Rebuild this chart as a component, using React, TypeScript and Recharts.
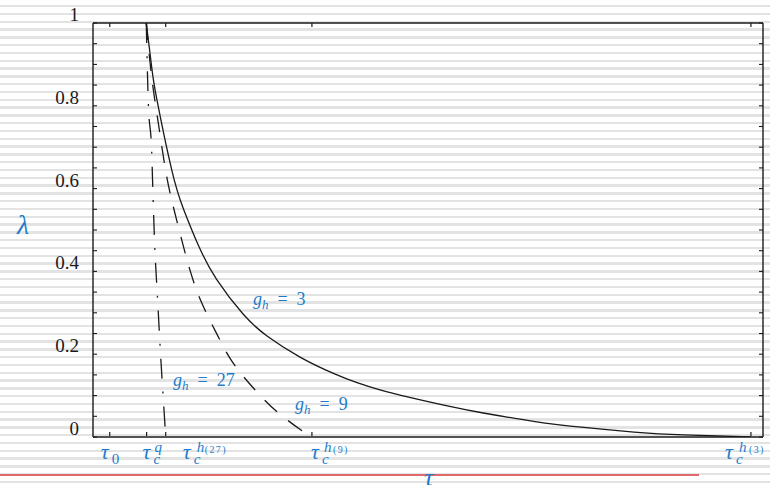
import React from 'react';
import { ComposedChart, Line, XAxis, YAxis, ReferenceDot } from 'recharts';

// curves: tau (arbitrary units) vs lambda
const GH3 = [
    { tau: 3.18, lambda: 1.0 }, { tau: 3.5, lambda: 0.895 }, { tau: 3.8, lambda: 0.818 },
    { tau: 4.7, lambda: 0.645 }, { tau: 5.39, lambda: 0.552 }, { tau: 6.29, lambda: 0.463 },
    { tau: 7.39, lambda: 0.38 }, { tau: 8.96, lambda: 0.297 }, { tau: 10.39, lambda: 0.244 },
    { tau: 12.36, lambda: 0.193 }, { tau: 14.39, lambda: 0.153 }, { tau: 17.13, lambda: 0.114 },
    { tau: 21.3, lambda: 0.074 }, { tau: 23.3, lambda: 0.058 }, { tau: 26.3, lambda: 0.038 },
    { tau: 29.3, lambda: 0.023 }, { tau: 32.3, lambda: 0.012 }, { tau: 35.3, lambda: 0.005 },
    { tau: 39.28, lambda: 0 },
];
const GH9 = [
    { tau: 3.18, lambda: 1.0 }, { tau: 3.5, lambda: 0.87 }, { tau: 3.9, lambda: 0.758 },
    { tau: 4.3, lambda: 0.652 }, { tau: 4.7, lambda: 0.572 }, { tau: 5.19, lambda: 0.493 },
    { tau: 5.79, lambda: 0.403 }, { tau: 6.49, lambda: 0.324 }, { tau: 7.39, lambda: 0.249 },
    { tau: 8.36, lambda: 0.179 }, { tau: 9.67, lambda: 0.114 }, { tau: 11.04, lambda: 0.059 },
    { tau: 12.66, lambda: 0.01 }, { tau: 13.07, lambda: 0 },
];
const GH27 = [
    { tau: 3.18, lambda: 1.0 }, { tau: 3.3, lambda: 0.81 }, { tau: 3.5, lambda: 0.693 },
    { tau: 3.6, lambda: 0.56 }, { tau: 3.7, lambda: 0.448 }, { tau: 3.84, lambda: 0.345 },
    { tau: 4.04, lambda: 0.195 }, { tau: 4.24, lambda: 0.065 }, { tau: 4.34, lambda: 0 },
];

const X_TICKS = [1, 3.2, 4.34, 13.07, 39.28];
const X_TICK_SUB = ['0', 'c', 'c', 'c', 'c'];
const X_TICK_SUP = ['', 'q', 'h', 'h', 'h'];
const X_TICK_SUP_EXTRA = ['', '', '(27)', '(9)', '(3)'];

const Y_TICKS = [0, 0.05, 0.1, 0.15, 0.2, 0.25, 0.3, 0.35, 0.4, 0.45, 0.5, 0.55, 0.6, 0.65, 0.7, 0.75, 0.8, 0.85, 0.9, 0.95, 1];
const Y_LABELS: Record<string, string> = { '0': '0', '0.2': '0.2', '0.4': '0.4', '0.6': '0.6', '0.8': '0.8', '1': '1' };

const CURVE_NAMES = ['3', '9', '27'];
const CURVE_LABEL_POS = [
    { tau: 9.55, lambda: 0.318 },
    { tau: 12.06, lambda: 0.065 },
    { tau: 4.78, lambda: 0.122 },
];

// label offsets (px) of the tau ticks, relative to the tick
const X_LABEL_DX = [
    { t: -9, sub: 2, sup: 0, extra: 0 },
    { t: -4, sub: 7, sup: 8, extra: 0 },
    { t: 17, sub: 28, sup: 31, extra: 39 },
    { t: -1, sub: 10, sup: 12, extra: 21 },
    { t: -26, sub: -15, sup: -12, extra: -2 },
];

const BLUE = '#1d7ccb';
const INK = '#1a1a1a';
const SERIF = '"Liberation Serif", "DejaVu Serif", serif';

const XTickBottom = (props: any) => {
    const { x, index } = props;
    const y = props.y - 1;
    const d = X_LABEL_DX[index];
    return (
        <g>
            <line x1={x} y1={y} x2={x} y2={y - 4} stroke={INK} strokeWidth={1.2} />
            <text x={x + d.t} y={y + 23} fill={BLUE} fontFamily={SERIF} fontStyle="italic" fontSize={22}>τ</text>
            <text x={x + d.sub} y={y + 28} fill={BLUE} fontFamily={SERIF} fontStyle={index === 0 ? 'normal' : 'italic'} fontSize={15}>{X_TICK_SUB[index]}</text>
            {X_TICK_SUP[index] && (
                <text x={x + d.sup} y={y + 16} fill={BLUE} fontFamily={SERIF} fontStyle="italic" fontSize={15}>{X_TICK_SUP[index]}</text>
            )}
            {X_TICK_SUP_EXTRA[index] && (
                <text x={x + d.extra} y={y + 17} fill={BLUE} fontFamily={SERIF} fontSize={10} letterSpacing={1.4}>{X_TICK_SUP_EXTRA[index]}</text>
            )}
        </g>
    );
};

const XTickTop = (props: any) => {
    const { x, y } = props;
    return <line x1={x} y1={y} x2={x} y2={y + 4} stroke={INK} strokeWidth={1.2} />;
};

const YTickLeft = (props: any) => {
    const { x, y, payload } = props;
    const label = Y_LABELS[String(payload.value)];
    return (
        <g>
            <line x1={x} y1={y} x2={x + 4} y2={y} stroke={INK} strokeWidth={1.1} />
            {label && (
                <text x={x - 14} y={y - 2} textAnchor="end" fill={INK} fontFamily={SERIF} fontSize={19}>{label}</text>
            )}
        </g>
    );
};

const YTickRight = (props: any) => {
    const { x, y } = props;
    return <line x1={x} y1={y} x2={x - 4} y2={y} stroke={INK} strokeWidth={1.1} />;
};

const CurveLabel = (name: string) => (props: any) => (
    <text x={props.cx} y={props.cy} fill={BLUE} fontFamily={SERIF} fontSize={18}>
        <tspan fontStyle="italic">g</tspan>
        <tspan fontStyle="italic" fontSize={13} dy={4}>h</tspan>
        <tspan dy={-4} dx={9}>=</tspan>
        <tspan dx={9}>{name}</tspan>
    </text>
);

const App: React.FC = () => {
    return (
        <div style={{
            position: 'absolute', top: 0, left: 0, width: 770, height: 485, overflow: 'hidden',
            background: 'repeating-linear-gradient(to bottom, #ffffff 0px, #ffffff 5px, #e3e3e3 5px, #e3e3e3 7.3px, #ffffff 7.3px, #ffffff 7.8px)',
        }}>
            <ComposedChart width={770} height={485} margin={{ top: 22, right: 6, bottom: 47, left: 92 }}>
                <XAxis xAxisId="b" type="number" dataKey="tau" domain={[0, 40]} ticks={X_TICKS} interval={0}
                    orientation="bottom" height={1} tickSize={0} tickMargin={0} tickLine={false}
                    axisLine={{ stroke: INK, strokeWidth: 1.4 }} tick={<XTickBottom />} allowDataOverflow />
                <XAxis xAxisId="t" type="number" dataKey="tau" domain={[0, 40]} ticks={X_TICKS} interval={0}
                    orientation="top" height={1} tickSize={0} tickMargin={0} tickLine={false}
                    axisLine={{ stroke: INK, strokeWidth: 1.4 }} tick={<XTickTop />} allowDataOverflow />
                <YAxis yAxisId="l" type="number" domain={[0, 1]} ticks={Y_TICKS} interval={0}
                    orientation="left" width={1} tickSize={0} tickMargin={0} tickLine={false}
                    axisLine={{ stroke: INK, strokeWidth: 1.4 }} tick={<YTickLeft />} allowDataOverflow />
                <YAxis yAxisId="r" type="number" domain={[0, 1]} ticks={Y_TICKS} interval={0}
                    orientation="right" width={1} tickSize={0} tickMargin={0} tickLine={false}
                    axisLine={{ stroke: INK, strokeWidth: 1.4 }} tick={<YTickRight />} allowDataOverflow />
                <Line xAxisId="b" yAxisId="l" data={GH3} dataKey="lambda" type="natural" stroke={INK}
                    strokeWidth={1.3} dot={false} activeDot={false} isAnimationActive={false} />
                <Line xAxisId="b" yAxisId="l" data={GH9} dataKey="lambda" type="natural" stroke={INK}
                    strokeWidth={1.3} strokeDasharray="17 14" dot={false} activeDot={false} isAnimationActive={false} />
                <Line xAxisId="b" yAxisId="l" data={GH27} dataKey="lambda" type="monotone" stroke={INK}
                    strokeWidth={1.3} strokeDasharray="20 13 2 13" dot={false} activeDot={false} isAnimationActive={false} />
                {CURVE_NAMES.map((name, i) => (
                    <ReferenceDot key={name} xAxisId="b" yAxisId="l" x={CURVE_LABEL_POS[i].tau} y={CURVE_LABEL_POS[i].lambda}
                        r={0} shape={CurveLabel(name)} />
                ))}
            </ComposedChart>
            <div style={{ position: 'absolute', left: 0, top: 474, width: 699, height: 2, background: '#e06a6a' }} />
            <div style={{ position: 'absolute', left: 17, top: 209, color: BLUE, fontFamily: SERIF, fontStyle: 'italic', fontSize: 28, lineHeight: '32px' }}>λ</div>
            <div style={{ position: 'absolute', left: 424, top: 463, color: BLUE, fontFamily: SERIF, fontStyle: 'italic', fontSize: 26, lineHeight: '30px' }}>τ</div>
        </div>
    );
};

export default App;
